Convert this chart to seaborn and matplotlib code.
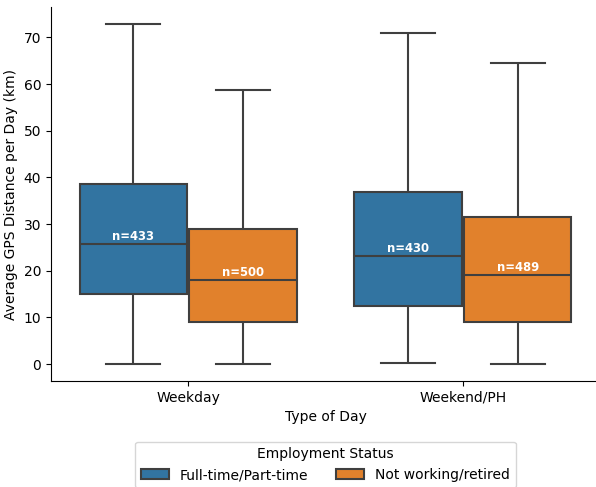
import numpy as np
import pandas as pd
import matplotlib
matplotlib.use("Agg")
import matplotlib.pyplot as plt
import seaborn as sns

# Five-number summaries (min, Q1, median, Q3, max) of average daily GPS distance, km
day_types = ["Weekday", "Weekend/PH"]
statuses = ["Full-time/Part-time", "Not working/retired"]
weekday_ft = [0.1, 15.1, 25.7, 38.6, 72.85]
weekday_nw = [0.1, 9.1, 17.9, 28.9, 58.7]
weekend_ft = [0.2, 12.4, 23.2, 36.8, 71.0]
weekend_nw = [0.0, 9.1, 19.1, 31.4, 64.6]
counts = {("Weekday", "Full-time/Part-time"): 433,
          ("Weekday", "Not working/retired"): 500,
          ("Weekend/PH", "Full-time/Part-time"): 430,
          ("Weekend/PH", "Not working/retired"): 489}

summaries = {("Weekday", "Full-time/Part-time"): weekday_ft,
             ("Weekday", "Not working/retired"): weekday_nw,
             ("Weekend/PH", "Full-time/Part-time"): weekend_ft,
             ("Weekend/PH", "Not working/retired"): weekend_nw}

rows = []
for (day, status), vals in summaries.items():
    for v in vals:
        rows.append({"Type of Day": day, "Employment Status": status,
                     "Average GPS Distance per Day (km)": v})
df = pd.DataFrame(rows)

fig = plt.figure(figsize=(5.96, 4.87), dpi=100)
W, H = 596, 487
ax = fig.add_axes([51 / W, (H - 381) / H, (600 - 51) / W, (381 - 7) / H])

sns.boxplot(data=df, x="Type of Day", y="Average GPS Distance per Day (km)",
            hue="Employment Status", order=day_types, hue_order=statuses,
            palette=["#1f77b4", "#ff7f0e"], saturation=0.75, whis=(0, 100),
            gap=0.02, linewidth=1.5, linecolor="#3f3f3f", ax=ax)

# Sample-size labels just above each median
offsets = [-0.2, 0.2]
for i, day in enumerate(day_types):
    for j, status in enumerate(statuses):
        med = summaries[(day, status)][2]
        ax.text(i + offsets[j], med + 0.9, f"n={counts[(day, status)]}",
                ha="center", va="baseline", color="white",
                fontsize="small", fontweight="semibold")

sns.despine(ax=ax)
ax.set_xlim(-0.5, 1.5)
ax.set_ylim(-3.64, 76.5)

leg = ax.legend(loc="upper center", bbox_to_anchor=(0.5, -0.162),
                borderaxespad=0, ncol=2, title="Employment Status",
                frameon=True)

fig.savefig("out.png", dpi=100)
